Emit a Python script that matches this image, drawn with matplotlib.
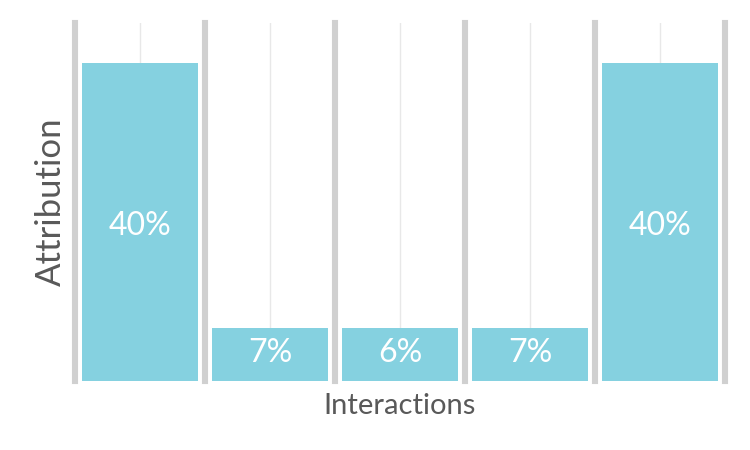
import matplotlib
matplotlib.use("Agg")
import matplotlib.pyplot as plt

categories = ["1", "2", "3", "4", "5"]
values = [40, 6.67, 6.67, 6.67, 40]
labels = ["40%", "7%", "6%", "7%", "40%"]

plt.rcParams['font.family'] = ['Lato', 'DejaVu Sans']

fig = plt.figure(figsize=(7.5, 4.5), dpi=100)
ax = fig.add_axes([0.1, 1 - 381 / 450, 0.8667, (381 - 23) / 450])

x = list(range(len(categories)))
for xi in x:
    ax.axvline(xi, color='#e8e8e8', lw=1, zorder=0)
for b in [i - 0.5 for i in range(len(categories) + 1)]:
    ax.axvline(b, color='#d0d0d0', lw=4.4, zorder=1, clip_on=False)

ax.bar(x, values, width=0.89, color='#85d1e0', zorder=2)
for xi, v, lab in zip(x, values, labels):
    ax.text(xi, v / 2 + (0.2 if v < 10 else -0.45), lab, ha='center', va='center',
            color='white', fontsize=23, zorder=3)

ax.set_xlim(-0.5, len(categories) - 0.5)
ax.set_ylim(0, 45.1)
ax.set_xticks([])
ax.set_yticks([])
for s in ax.spines.values():
    s.set_visible(False)

ax.set_xlabel("Interactions", color='#595959', fontsize=21, labelpad=9)
ax.set_ylabel("Attribution", color='#595959', fontsize=25, labelpad=6)

fig.savefig("out.png", dpi=100)
